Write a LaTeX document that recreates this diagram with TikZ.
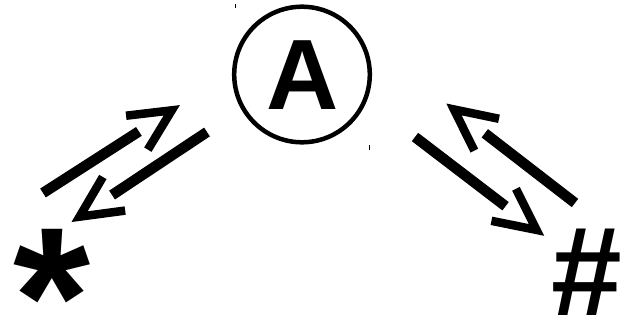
\documentclass[tikz,border=0pt]{standalone}
\usepackage{fontspec}
\setmainfont{Liberation Sans}
\begin{document}
\begin{tikzpicture}[x=1pt,y=1pt,
  shaft/.style={line width=10.5pt, line cap=butt},
  headst/.style={line width=8.5pt, line cap=butt, line join=miter, miter limit=10},
  glyph/.style={inner sep=0pt, outer sep=0pt, anchor=north},
  tick/.style={line width=1pt}]
\useasboundingbox (0,0) rectangle (625,325);
% circle and letter
\node[draw, circle, line width=4.5pt, minimum size=135.6pt, inner sep=0pt] (ring) at (302,250.5) {};
\node[glyph, font=\bfseries\fontsize{100}{100}\selectfont] (A) at (303,284.5) {A};
\node[glyph, font=\bfseries\fontsize{198}{198}\selectfont] (star) at (52.5,96) {\raisebox{0pt}[\height][-0.42em]{*}};
\node[glyph, font=\bfseries\fontsize{127}{127}\selectfont] (hash) at (587,96) {\raisebox{0pt}[\height][-3pt]{\#}};
% corner ticks
\coordinate (t1) at (235,321);
\coordinate (t2) at (369,180);
\draw[tick] (t1) -- ++(0,-4);
\draw[tick] (t2) -- ++(0,-5);
% arrow starts
\coordinate (L1) at (43,132);
\coordinate (L2) at (207,193);
\coordinate (R1) at (575,122);
\coordinate (R2) at (415,188);
\foreach \s/\a in {L1/32.7, L2/213.6, R1/142.3, R2/-37.4}{
  \begin{scope}[shift={(\s)}, rotate=\a]
    \coordinate (\s-end) at (114,0);
    \coordinate (\s-tip) at (153,0);
    \draw[shaft] (0,0) -- (\s-end);
    \draw[headst] (\s-tip) ++(154:46) -- (\s-tip) -- ++(206:46);
  \end{scope}
}
\end{tikzpicture}
\end{document}
